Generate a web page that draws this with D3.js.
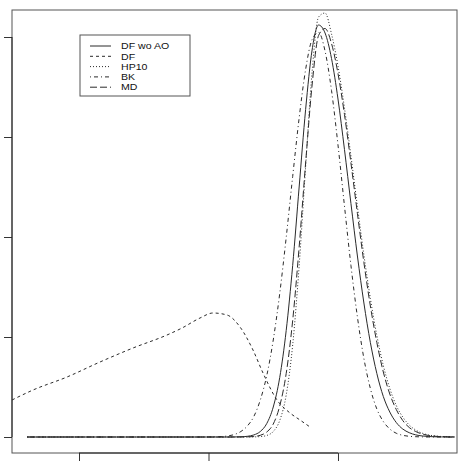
<!DOCTYPE html>
<html><head><meta charset="utf-8">
<script src="https://cdn.jsdelivr.net/npm/d3@7"></script>
<style>html,body{margin:0;padding:0;background:#fff;}svg{display:block;}</style>
</head><body>
<script>
// ---- data ----
const xTicks = [0.6, 0.8, 1.0];
const yTicks = [0, 2, 4, 6, 8];
const seriesNames = ["DF wo AO", "DF", "HP10", "BK", "MD"];
const gridX = [0.52, 0.79,0.80,0.81,0.82,0.83,0.84,0.85,0.86,0.87,0.88,0.89,0.90,0.91,0.92,0.93,0.94,0.95,0.96,0.97,0.98,0.99,1.00,1.01,1.02,1.03,1.04,1.05,1.06,1.07,1.08,1.09,1.10,1.11,1.12,1.13,1.14,1.15,1.16,1.17,1.18];
const dfWoAO = [0, 0,0,0,0,0,0.001,0.004,0.014,0.041,0.11,0.27,0.60,1.19,2.13,3.43,5.00,6.55,7.74,8.24,8.08,7.57,6.76,5.75,4.67,3.62,2.68,1.89,1.27,0.81,0.50,0.29,0.16,0.086,0.043,0.021,0.010,0.004,0.002,0,0];
const hp10 = [0, 0,0,0,0,0,0,0,0,0.002,0.008,0.031,0.11,0.33,0.84,1.84,3.42,5.41,7.30,8.40,8.48,8.06,7.42,6.58,5.62,4.61,3.64,2.77,2.03,1.43,0.97,0.63,0.40,0.24,0.14,0.077,0.041,0.021,0.010,0.005,0.002];
const bk = [0, 0,0.001,0.004,0.009,0.022,0.050,0.11,0.22,0.41,0.74,1.23,1.94,2.87,3.99,5.21,6.38,7.35,7.95,8.09,7.72,6.93,5.84,4.62,3.43,2.40,1.57,0.97,0.56,0.31,0.16,0.075,0.034,0.014,0.006,0.002,0,0,0,0,0];
const md = [0, 0,0,0,0,0,0,0.001,0.003,0.010,0.034,0.10,0.26,0.62,1.27,2.33,3.80,5.48,7.04,8.03,8.17,7.87,7.27,6.45,5.48,4.47,3.49,2.62,1.89,1.30,0.86,0.55,0.33,0.19,0.11,0.059,0.030,0.015,0.007,0.003,0.001];
const dfX = [0.4965,0.529,0.5815,0.6324,0.6834,0.7359,0.7591,0.7869,0.8069,0.8286,0.8487,0.8687,0.8842,0.9058,0.9259,0.9413,0.9568];
const dfY = [0.74,0.94,1.20,1.50,1.78,2.04,2.18,2.38,2.48,2.44,2.20,1.74,1.28,0.74,0.48,0.34,0.20];

// ---- layout ----
const W = 459, H = 463;
const box = {l: 12, r: 457, t: 10, b: 453};
const x = d3.scaleLinear().domain([0.4965, 1.1838]).range([box.l, box.r]);
const y = d3.scaleLinear().domain([-0.32, 8.54]).range([box.b, box.t]);

const svg = d3.select("body").append("svg").attr("width", W).attr("height", H);
svg.append("defs").append("clipPath").attr("id", "clip")
  .append("rect").attr("x", box.l).attr("y", box.t).attr("width", box.r - box.l).attr("height", box.b - box.t);

const ink = "#2a2a2a";
const styles = {
  "DF wo AO": null,
  "DF": "3,3",
  "HP10": "1,2",
  "BK": "1,3,4,3",
  "MD": "7,3"
};

const line = d3.line().x(d => x(d[0])).y(d => y(d[1])).curve(d3.curveMonotoneX);
const series = [
  {name: "DF wo AO", pts: gridX.map((v, i) => [v, dfWoAO[i]])},
  {name: "DF", pts: dfX.map((v, i) => [v, dfY[i]])},
  {name: "HP10", pts: gridX.map((v, i) => [v, hp10[i]])},
  {name: "BK", pts: gridX.map((v, i) => [v, bk[i]])},
  {name: "MD", pts: gridX.map((v, i) => [v, md[i]])}
];
const g = svg.append("g").attr("clip-path", "url(#clip)");
series.forEach(s => {
  g.append("path").attr("d", line(s.pts)).attr("fill", "none")
    .attr("stroke", ink).attr("stroke-width", 1)
    .attr("stroke-dasharray", styles[s.name]);
});

// box
svg.append("rect").attr("x", box.l).attr("y", box.t).attr("width", box.r - box.l).attr("height", box.b - box.t)
  .attr("fill", "none").attr("stroke", "#555").attr("stroke-width", 1);

// axes
const ax = svg.append("g").attr("transform", `translate(0,${box.b})`)
  .call(d3.axisBottom(x).tickValues(xTicks).tickSize(8).tickSizeOuter(0).tickFormat(""));
ax.select(".domain").remove();
ax.append("line").attr("x1", x(xTicks[0])).attr("x2", x(xTicks[xTicks.length - 1])).attr("stroke", "#222");
const ay = svg.append("g").attr("transform", `translate(${box.l},0)`)
  .call(d3.axisLeft(y).tickValues(yTicks).tickSize(8).tickSizeOuter(0).tickFormat(""));
ay.select(".domain").remove();
ay.append("line").attr("y1", y(yTicks[0])).attr("y2", y(yTicks[yTicks.length - 1])).attr("stroke", "#222");
svg.selectAll(".tick line").attr("stroke", "#333");

// legend
const lg = svg.append("g");
lg.append("rect").attr("x", 80).attr("y", 35).attr("width", 110).attr("height", 61)
  .attr("fill", "#fff").attr("stroke", "#555");
seriesNames.forEach((n, i) => {
  const yy = 46 + i * 10.3;
  lg.append("line").attr("x1", 90).attr("x2", 111).attr("y1", yy).attr("y2", yy)
    .attr("stroke", ink).attr("stroke-dasharray", styles[n]);
  const t = lg.append("text").attr("x", 121).attr("y", yy).attr("dy", "0.35em")
    .attr("font-family", "Liberation Sans, Arial, sans-serif").attr("font-size", 9.2)
    .attr("fill", "#111").text(n);
  const w = t.node().getComputedTextLength();
  t.attr("textLength", w * 1.15).attr("lengthAdjust", "spacingAndGlyphs");
});
</script>
</body></html>
